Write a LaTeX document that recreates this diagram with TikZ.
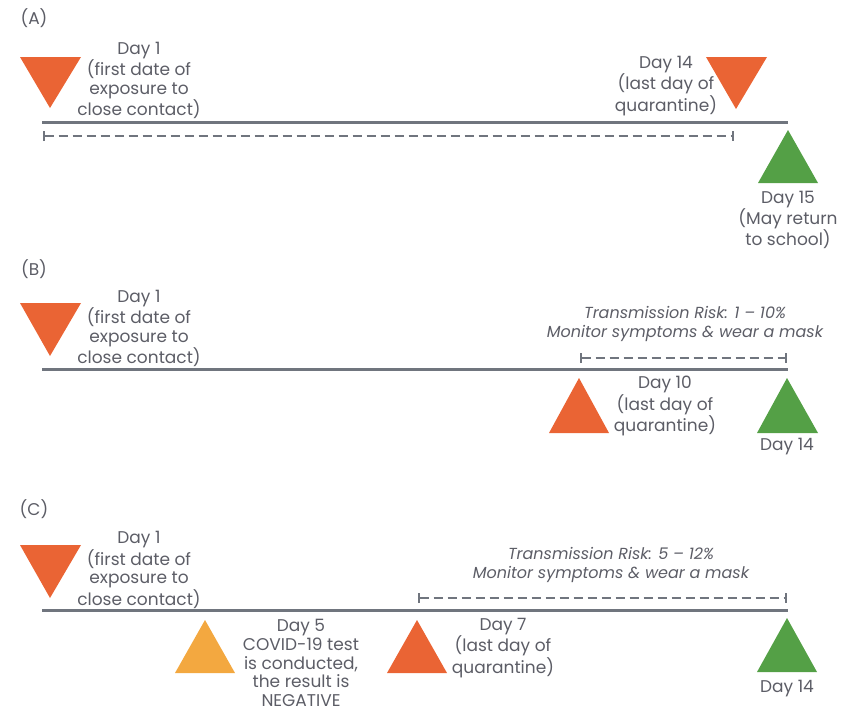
\documentclass[tikz,border=0pt]{standalone}
\usepackage{fontspec}
\setmainfont{Poppins}
\usetikzlibrary{arrows.meta}
\definecolor{txtgray}{RGB}{92,93,102}
\definecolor{linegray}{RGB}{112,117,126}
\definecolor{redorange}{RGB}{234,100,52}
\definecolor{leafgreen}{RGB}{84,160,70}
\definecolor{amber}{RGB}{243,168,64}
\begin{document}
\begin{tikzpicture}[x=1pt,y=-1pt,
    lbl/.style = {text=txtgray, font=\fontsize{17}{18.6}\selectfont, align=center, inner sep=0pt},
    risk/.style = {text=txtgray, font=\fontsize{16}{18.5}\selectfont\itshape, align=center, inner sep=0pt},
    axis/.style = {draw=linegray, line width=3pt},
    span/.style = {draw=linegray, line width=2pt, dash pattern=on 9pt off 5pt, {Bar[width=10pt,line width=2pt]}-{Bar[width=10pt,line width=2pt]}}]
\useasboundingbox (0,0) rectangle (843,712);

\node[lbl] (tagA) at (34,18) {(A)};
\fill[redorange] (20,57) -- (81,57) -- (50,108) -- cycle;
\node[lbl] (dayA1) at (139,80.5) {Day 1\\(first date of\\exposure to\\close contact)};
\fill[redorange] (706,57) -- (767,57) -- (736,109) -- cycle;
\node[lbl] (dayA14) at (666,86) {Day 14\\(last day of\\quarantine)};
\fill[leafgreen] (758,183) -- (818,183) -- (788,130) -- cycle;
\node[lbl] (dayA15) at (788,220) {Day 15\\(May return\\to school)};
\coordinate (a0) at (42,122);
\coordinate (a1) at (788,122);
\coordinate (s0) at (43,136);
\coordinate (s1) at (734,136);
\draw[axis] (a0) -- (a1);
\draw[span] (s0) -- (s1);

\node[lbl] (tagB) at (34,269) {(B)};
\fill[redorange] (20,303) -- (81,303) -- (50,356) -- cycle;
\node[lbl] (dayB1) at (139,328.5) {Day 1\\(first date of\\exposure to\\close contact)};
\node[risk] (riskB) at (685,324) {Transmission Risk: 1 -- 10\%\\Monitor symptoms \& wear a mask};
\coordinate (b0) at (42,369);
\coordinate (b1) at (788,369);
\coordinate (t0) at (580,358);
\coordinate (t1) at (787,358);
\draw[axis] (b0) -- (b1);
\draw[span] (t0) -- (t1);
\fill[redorange] (549,433) -- (609,433) -- (579,378) -- cycle;
\node[lbl] (dayB10) at (665,406) {Day 10\\(last day of\\quarantine)};
\fill[leafgreen] (757,433) -- (818,433) -- (787,378) -- cycle;
\node[lbl] (dayB14) at (787,447) {Day 14};

\node[lbl] (tagC) at (34,509) {(C)};
\fill[redorange] (20,545) -- (81,545) -- (50,598) -- cycle;
\node[lbl] (dayC1) at (139,570) {Day 1\\(first date of\\exposure to\\close contact)};
\node[risk] (riskC) at (611,565) {Transmission Risk: 5 -- 12\%\\Monitor symptoms \& wear a mask};
\coordinate (c0) at (42,610);
\coordinate (c1) at (788,610);
\coordinate (u0) at (418,598);
\coordinate (u1) at (787,598);
\draw[axis] (c0) -- (c1);
\draw[span] (u0) -- (u1);
\fill[amber] (175,673) -- (235,673) -- (205,620) -- cycle;
\node[lbl] (dayC5) at (301,663) {Day 5\\COVID-19 test\\is conducted,\\the result is\\NEGATIVE};
\fill[redorange] (387,673) -- (447,673) -- (417,620) -- cycle;
\node[lbl] (dayC7) at (503,648) {Day 7\\(last day of\\quarantine)};
\fill[leafgreen] (757,672) -- (817,672) -- (787,618) -- cycle;
\node[lbl] (dayC14) at (787,689) {Day 14};
\end{tikzpicture}
\end{document}
